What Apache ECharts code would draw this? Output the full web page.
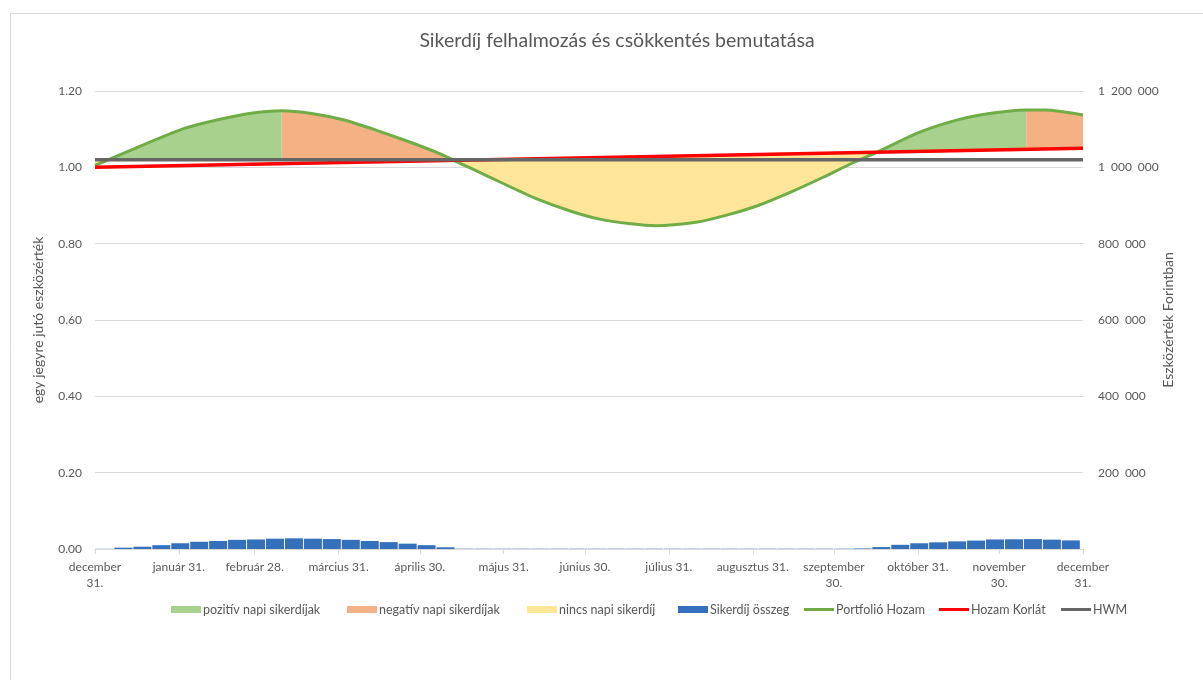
<!DOCTYPE html>
<html>
<head>
<meta charset="utf-8">
<title>Sikerdíj felhalmozás és csökkentés bemutatása</title>
<script src="https://cdn.jsdelivr.net/npm/echarts@6/dist/echarts.min.js"></script>
<style>
  html, body { margin: 0; padding: 0; background: #fff; }
  #chart { width: 1203px; height: 680px; }
</style>
</head>
<body>
<div id="chart"></div>
<script>
// napok december 31-től (0 = dec. 31., 365 = következő dec. 31.)
var monthEndDays = [0, 31, 59, 90, 120, 151, 181, 212, 243, 273, 304, 334, 365];
var monthLabels = ['december\n31.', 'január 31.', 'február 28.', 'március 31.', 'április 30.',
  'május 31.', 'június 30.', 'július 31.', 'augusztus 31.', 'szeptember\n30.',
  'október 31.', 'november\n30.', 'december\n31.'];

// Portfolió hozam (egy jegyre jutó eszközérték), leolvasva
var portfolioDays = [0, 5, 22, 33, 45, 57, 69, 80, 92, 104, 116, 128, 132, 139, 151, 163, 175, 186,
  198, 207, 222, 233, 245, 257, 269, 280, 289, 304, 316, 327, 344, 351, 365];
var portfolioValues = [1.005, 1.020, 1.071, 1.102, 1.124, 1.141, 1.148, 1.141, 1.124, 1.097, 1.067,
  1.034, 1.020, 0.997, 0.957, 0.918, 0.887, 0.865, 0.852, 0.847, 0.856, 0.874, 0.900, 0.935,
  0.974, 1.012, 1.040, 1.090, 1.119, 1.137, 1.150, 1.150, 1.137];

// Hozam korlát (egyenes) és HWM
var korlatDays = [0, 365];
var korlatValues = [1.00, 1.05];
var hwmDays = [0, 365];
var hwmValues = [1.02, 1.02];

// Sikerdíj összeg hetente (Forint), 52 hét
var feeWeeks = [];
for (var w = 1; w <= 52; w++) feeWeeks.push(w * 7 - 3.5);
var feeValues = [500, 3500, 6000, 10000, 15000, 19000, 21000, 24000, 25000, 27000, 28000, 27000,
  26000, 24000, 21000, 18000, 14000, 10000, 4500, 800, 800, 800, 800, 800, 800, 800, 800, 800,
  800, 800, 800, 800, 800, 800, 800, 800, 800, 800, 800, 800, 1500, 5000, 11000, 15000, 17500,
  20000, 22000, 25000, 25500, 26000, 24500, 22500];

var leftTicks = [0, 0.2, 0.4, 0.6, 0.8, 1.0, 1.2];
var rightTicks = [0, 200000, 400000, 600000, 800000, 1000000, 1200000];

var txt = '#595959';
var font = 'Lato';

// küszöb = max(HWM, hozam korlát)
function korlatAt(d) {
  return korlatValues[0] + (korlatValues[1] - korlatValues[0]) * (d - korlatDays[0]) / (korlatDays[1] - korlatDays[0]);
}
function thr(d) { return Math.max(hwmValues[0], korlatAt(d)); }
var kinkDay = korlatDays[0] + (hwmValues[0] - korlatValues[0]) / (korlatValues[1] - korlatValues[0]) * (korlatDays[1] - korlatDays[0]);

// szakaszok besorolása: pozitív / negatív / nincs napi sikerdíj
var runs = [];
for (var i = 0; i < portfolioDays.length - 1; i++) {
  var a = portfolioValues[i], b = portfolioValues[i + 1];
  var below = (a + b) / 2 < (thr(portfolioDays[i]) + thr(portfolioDays[i + 1])) / 2;
  var cls = below ? 'none' : (b > a ? 'pos' : 'neg');
  var last = runs[runs.length - 1];
  if (last && last.cls === cls) last.end = i + 1;
  else runs.push({ cls: cls, start: i, end: i + 1 });
}

function runPolygon(r) {
  var pts = [];
  for (var j = r.start; j <= r.end; j++) pts.push([portfolioDays[j], portfolioValues[j]]);
  var d0 = portfolioDays[r.start], d1 = portfolioDays[r.end];
  pts.push([d1, thr(d1)]);
  if (kinkDay > d0 && kinkDay < d1) pts.push([kinkDay, thr(kinkDay)]);
  pts.push([d0, thr(d0)]);
  return pts;
}

function fillSeries(name, cls, color) {
  var list = runs.filter(function (r) { return r.cls === cls; });
  return {
    name: name,
    type: 'custom',
    xAxisIndex: 0,
    yAxisIndex: 0,
    itemStyle: { color: color },
    encode: { x: 0, y: 1 },
    data: list.map(function (r) { return [portfolioDays[r.start], portfolioValues[r.start]]; }),
    renderItem: function (params, api) {
      var pts = runPolygon(list[params.dataIndex]).map(function (p) { return api.coord(p); });
      return { type: 'polygon', shape: { points: pts }, style: { fill: color } };
    },
    z: 1
  };
}

function pairs(xs, ys) { return xs.map(function (x, k) { return [x, ys[k]]; }); }

var chart = echarts.init(document.getElementById('chart'));

var legendItems = [
  { name: 'pozitív napi sikerdíjak', left: 171, h: 7 },
  { name: 'negatív napi sikerdíjak', left: 347, h: 7 },
  { name: 'nincs napi sikerdíj', left: 527, h: 7 },
  { name: 'Sikerdíj összeg', left: 678, h: 7 },
  { name: 'Portfolió Hozam', left: 804, h: 3 },
  { name: 'Hozam Korlát', left: 939, h: 3 },
  { name: 'HWM', left: 1061, h: 3 }
];

chart.setOption({
  animation: false,
  backgroundColor: '#fff',
  title: {
    text: 'Sikerdíj felhalmozás és csökkentés bemutatása',
    left: 612,
    top: 26,
    textAlign: 'center',
    textStyle: { color: txt, fontFamily: font, fontSize: 19.5, fontWeight: 'normal' }
  },
  graphic: [{
    type: 'rect', silent: true, z: -10,
    shape: { x: 10.5, y: 13.5, width: 1400, height: 900 },
    style: { fill: 'none', stroke: '#d9d9d9', lineWidth: 1 }
  }],
  legend: legendItems.map(function (it) {
    return {
      data: [it.name], left: it.left, top: 603, icon: 'rect',
      itemWidth: 30, itemHeight: it.h, padding: 0,
      textStyle: { color: txt, fontFamily: font, fontSize: 12.5, padding: [0, 0, 0, -3] },
      selectedMode: false
    };
  }),
  grid: { left: 95, right: 120, top: 91, bottom: 131 },
  xAxis: {
    type: 'value', min: 0, max: 365,
    axisLine: { lineStyle: { color: '#d9d9d9', width: 1 } },
    axisTick: { show: true, customValues: monthEndDays, length: 5, lineStyle: { color: '#d9d9d9' } },
    axisLabel: {
      customValues: monthEndDays, showMinLabel: true, showMaxLabel: true,
      color: txt, fontFamily: font, fontSize: 12, lineHeight: 16, margin: 10,
      formatter: function (v) { var k = monthEndDays.indexOf(v); return k >= 0 ? monthLabels[k] : ''; }
    },
    splitLine: { show: false }
  },
  yAxis: [{
    type: 'value', min: leftTicks[0], max: leftTicks[leftTicks.length - 1], interval: 0.2,
    name: 'egy jegyre jutó eszközérték', nameLocation: 'middle', nameRotate: 90, nameGap: 50,
    nameMoveOverlap: false,
    nameTextStyle: { color: txt, fontFamily: font, fontSize: 14 },
    axisLine: { show: false }, axisTick: { show: false },
    axisLabel: { color: txt, fontFamily: font, fontSize: 12, margin: 13, formatter: function (v) { return v.toFixed(2); } },
    splitLine: { lineStyle: { color: '#d9d9d9', width: 1 } }
  }, {
    type: 'value', min: rightTicks[0], max: rightTicks[rightTicks.length - 1], interval: 200000,
    name: 'Eszközérték Forintban', nameLocation: 'middle', nameRotate: 90, nameGap: 78,
    nameMoveOverlap: false,
    nameTextStyle: { color: txt, fontFamily: font, fontSize: 14 },
    axisLine: { show: false }, axisTick: { show: false },
    axisLabel: {
      color: txt, fontFamily: font, fontSize: 12, margin: 15, align: 'left',
      formatter: function (v) { return v === 0 ? '' : String(v).replace(/\B(?=(\d{3})+(?!\d))/g, '\u2002'); }
    },
    splitLine: { show: false }
  }],
  series: [
    fillSeries('pozitív napi sikerdíjak', 'pos', '#A9D18E'),
    fillSeries('negatív napi sikerdíjak', 'neg', '#F4B183'),
    fillSeries('nincs napi sikerdíj', 'none', '#FFE699'),
    {
      name: 'Sikerdíj összeg', type: 'bar', xAxisIndex: 0, yAxisIndex: 1,
      barWidth: 18, itemStyle: { color: '#3470BC' },
      data: pairs(feeWeeks, feeValues), z: 2
    },
    {
      name: 'Portfolió Hozam', type: 'line', xAxisIndex: 0, yAxisIndex: 0,
      data: pairs(portfolioDays, portfolioValues), smooth: 0.25, symbol: 'none',
      lineStyle: { color: '#70AD47', width: 3 }, itemStyle: { color: '#70AD47' }, z: 3
    },
    {
      name: 'Hozam Korlát', type: 'line', xAxisIndex: 0, yAxisIndex: 0,
      data: pairs(korlatDays, korlatValues), symbol: 'none',
      lineStyle: { color: '#FF0000', width: 3.5 }, itemStyle: { color: '#FF0000' }, z: 4
    },
    {
      name: 'HWM', type: 'line', xAxisIndex: 0, yAxisIndex: 0,
      data: pairs(hwmDays, hwmValues), symbol: 'none',
      lineStyle: { color: '#666666', width: 3.5 }, itemStyle: { color: '#666666' }, z: 5
    }
  ]
});
</script>
</body>
</html>
